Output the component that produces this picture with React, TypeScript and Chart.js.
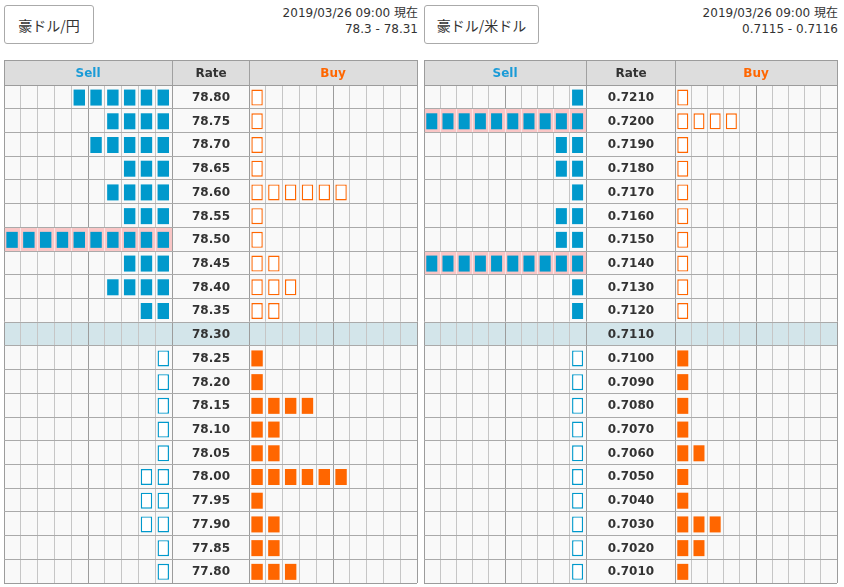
import React, { useEffect, useRef } from 'react';
import { Chart, registerables } from 'chart.js';
Chart.register(...registerables);

// ---------- data ----------
const jpyTitle = '豪ドル/円';
const jpyStamp = '2019/03/26 09:00 現在';
const jpyQuote = '78.3 - 78.31';
const jpyRates = ['78.80', '78.75', '78.70', '78.65', '78.60', '78.55', '78.50', '78.45', '78.40', '78.35', '78.30', '78.25', '78.20', '78.15', '78.10', '78.05', '78.00', '77.95', '77.90', '77.85', '77.80'];
const jpySell = [6, 4, 5, 3, 4, 3, 10, 3, 4, 2, 0, 1, 1, 1, 1, 1, 2, 2, 2, 1, 1];
const jpyBuy = [1, 1, 1, 1, 6, 1, 1, 2, 3, 2, 0, 1, 1, 4, 2, 2, 6, 1, 2, 2, 3];
const jpyCurrent = 10;

const usdTitle = '豪ドル/米ドル';
const usdStamp = '2019/03/26 09:00 現在';
const usdQuote = '0.7115 - 0.7116';
const usdRates = ['0.7210', '0.7200', '0.7190', '0.7180', '0.7170', '0.7160', '0.7150', '0.7140', '0.7130', '0.7120', '0.7110', '0.7100', '0.7090', '0.7080', '0.7070', '0.7060', '0.7050', '0.7040', '0.7030', '0.7020', '0.7010'];
const usdSell = [1, 10, 2, 2, 1, 2, 2, 10, 1, 1, 0, 1, 1, 1, 1, 1, 1, 1, 1, 1, 1];
const usdBuy = [1, 4, 1, 1, 1, 1, 1, 1, 1, 1, 0, 1, 1, 1, 1, 2, 1, 1, 3, 2, 1];
const usdCurrent = 10;

const headerLabels = ['Sell', 'Rate', 'Buy'];
const COLS = 10;
const MAX_BOXES = 10;

// ---------- styles ----------
const BLUE = '#0099cc';
const ORANGE = '#ff6600';
const SELL_TEXT = '#1a9bd7';
const TEXT = '#333333';
const HEADER_ROWS = 25 / 23.714;
const FONT = '"DejaVu Sans", "Noto Sans CJK JP", sans-serif';

type Box = { x: [number, number]; y: number };

function makeConfig(rates: string[], sell: number[], buy: number[], current: number, rateSpan: number): any {
  const sellFilled: Box[] = [];
  const sellOpen: Box[] = [];
  const buyOpen: Box[] = [];
  const buyFilled: Box[] = [];
  const g0 = 0.14, gw = 0.68;
  rates.forEach((_, i) => {
    const yc = i + 0.53;
    for (let k = 0; k < sell[i]; k++) {
      const c = COLS - 1 - k;
      const b: Box = { x: [c + g0, c + g0 + gw], y: yc };
      (i < current ? sellFilled : sellOpen).push(b);
    }
    const base = COLS + rateSpan;
    for (let k = 0; k < buy[i]; k++) {
      const c = base + k;
      const b: Box = { x: [c + g0, c + g0 + gw], y: yc };
      (i < current ? buyOpen : buyFilled).push(b);
    }
  });
  const total = 2 * COLS + rateSpan;
  const xTicks: number[] = [];
  for (let c = 0; c <= COLS; c++) xTicks.push(c);
  for (let c = 0; c <= COLS; c++) xTicks.push(COLS + rateSpan + c);
  const darkX = new Set([0, 5, 10, 11, 16, 21]);
  const yTicks: number[] = [-HEADER_ROWS];
  for (let r = 0; r <= rates.length; r++) yTicks.push(r);
  const highlight = sell.map((v, i) => (v >= MAX_BOXES ? i : -1)).filter((i) => i >= 0);

  const pix = (scale: any, v: number) => Math.round(scale.getPixelForValue(v) - 0.5);

  const tablePlugin = {
    id: 'table',
    beforeDraw(chart: any) {
      const { ctx, chartArea: a, scales } = chart;
      const y = scales.y;
      ctx.save();
      ctx.fillStyle = '#f9f9f9';
      ctx.fillRect(a.left, a.top, a.right - a.left, a.bottom - a.top);
      const t = pix(y, current), b = pix(y, current + 1);
      ctx.fillStyle = '#d3e5ea';
      ctx.fillRect(a.left, t, a.right - a.left, b - t);
      ctx.restore();
    },
    beforeDatasetsDraw(chart: any) {
      const { ctx, scales } = chart;
      const x = scales.x, y = scales.y;
      const L = pix(x, 0), S = pix(x, COLS), B = pix(x, COLS + rateSpan), R = pix(x, total);
      const T = pix(y, -HEADER_ROWS), HB = pix(y, 0);
      ctx.save();
      // header
      ctx.fillStyle = '#dddddd';
      ctx.fillRect(L + 1, T + 1, R - L - 1, HB - T - 1);
      ctx.fillStyle = '#a0a0a0';
      ctx.fillRect(S, T + 1, 1, HB - T - 1);
      ctx.fillRect(B, T + 1, 1, HB - T - 1);
      ctx.font = 'bold 12px ' + FONT;
      ctx.textAlign = 'center';
      ctx.textBaseline = 'alphabetic';
      const hy = (T + HB) / 2 + 4.5;
      ctx.fillStyle = SELL_TEXT;
      ctx.fillText(headerLabels[0], (L + S) / 2, hy);
      ctx.fillStyle = TEXT;
      ctx.fillText(headerLabels[1], (S + B) / 2 + 0.5, hy);
      ctx.fillStyle = ORANGE;
      ctx.fillText(headerLabels[2], (B + R) / 2, hy);
      // highlighted rows (full sell side)
      highlight.forEach((i) => {
        const t = pix(y, i), b = pix(y, i + 1);
        ctx.fillStyle = '#f9c6c6';
        ctx.fillRect(L + 1, t + 1, S - L - 1, b - t - 1);
        ctx.fillStyle = '#fbe6e6';
        for (let c = 1; c < COLS; c++) ctx.fillRect(pix(x, c), t + 1, 1, b - t - 1);
      });
      ctx.restore();
    },
    afterDatasetsDraw(chart: any) {
      const { ctx, scales } = chart;
      const x = scales.x, y = scales.y;
      const cx = (x.getPixelForValue(COLS) + x.getPixelForValue(COLS + rateSpan)) / 2 + 0.5;
      ctx.save();
      ctx.font = 'bold 12px ' + FONT;
      ctx.textAlign = 'center';
      ctx.textBaseline = 'alphabetic';
      ctx.fillStyle = TEXT;
      rates.forEach((label, i) => {
        ctx.fillText(label, cx, y.getPixelForValue(i + 0.5) + 4.2);
      });
      ctx.restore();
    },
  };

  const common = { borderSkipped: false, inflateAmount: 0, grouped: false, barThickness: 16 };
  return {
    type: 'bar',
    data: {
      datasets: [
        { label: 'sell', data: sellFilled, backgroundColor: BLUE, borderWidth: 0, ...common },
        { label: 'sell open', data: sellOpen, backgroundColor: '#ffffff', borderColor: BLUE, borderWidth: 1.4, ...common },
        { label: 'buy open', data: buyOpen, backgroundColor: '#ffffff', borderColor: ORANGE, borderWidth: 1.4, ...common },
        { label: 'buy', data: buyFilled, backgroundColor: ORANGE, borderWidth: 0, ...common },
      ],
    },
    options: {
      indexAxis: 'y',
      responsive: false,
      animation: false,
      devicePixelRatio: 1,
      events: [],
      layout: { padding: { left: 1, top: 1, right: 3, bottom: 2 } },
      plugins: { legend: { display: false }, tooltip: { enabled: false }, title: { display: false } },
      scales: {
        x: {
          type: 'linear',
          min: 0,
          max: total,
          offset: false,
          ticks: { display: false },
          border: { display: false },
          grid: { offset: false, drawTicks: false, lineWidth: 1, color: (c: any) => (darkX.has(c.index) ? '#9c9c9c' : '#c6c6c6') },
          afterBuildTicks: (s: any) => { s.ticks = xTicks.map((v) => ({ value: v })); },
        },
        y: {
          type: 'linear',
          min: -HEADER_ROWS,
          max: rates.length,
          reverse: true,
          offset: false,
          ticks: { display: false },
          border: { display: false },
          grid: { offset: false, drawTicks: false, lineWidth: 1, color: (c: any) => (c.index <= 1 || c.index === yTicks.length - 1 ? '#9c9c9c' : '#aaaaaa') },
          afterBuildTicks: (s: any) => { s.ticks = yTicks.map((v) => ({ value: v })); },
        },
      },
    },
    plugins: [tablePlugin],
  };
}

function Panel(props: { left: number; title: string; btnWidth: number; stamp: string; quote: string; rates: string[]; sell: number[]; buy: number[]; current: number; rateSpan: number }) {
  const ref = useRef<HTMLCanvasElement>(null);
  useEffect(() => {
    if (!ref.current) return;
    const chart = new Chart(ref.current, makeConfig(props.rates, props.sell, props.buy, props.current, props.rateSpan));
    return () => chart.destroy();
  }, []);
  const { left } = props;
  return (
    <>
      <div
        style={{
          position: 'absolute', left: left + 4, top: 5, width: props.btnWidth, height: 39, boxSizing: 'border-box',
          border: '1px solid #aaaaaa', borderRadius: 3, background: '#fff', display: 'flex', alignItems: 'center',
          justifyContent: 'center', fontFamily: '"Noto Sans CJK JP", sans-serif', fontSize: 14, color: TEXT,
        }}
      >
        {props.title}
      </div>
      <div style={{ position: 'absolute', left: left, width: 418, top: 5, lineHeight: '16px', textAlign: 'right', fontFamily: FONT, fontSize: 12, color: TEXT, whiteSpace: 'nowrap' }}>
        {props.stamp}
      </div>
      <div style={{ position: 'absolute', left: left, width: 418, top: 21, lineHeight: '16px', textAlign: 'right', fontFamily: FONT, fontSize: 12, color: TEXT, whiteSpace: 'nowrap' }}>
        {props.quote}
      </div>
      <canvas ref={ref} width={417} height={526} style={{ position: 'absolute', left: left + 3, top: 59, width: 417, height: 526 }} />
    </>
  );
}

export default function App() {
  return (
    <div style={{ position: 'absolute', left: 0, top: 0, width: 844, height: 587, background: '#ffffff', overflow: 'hidden' }}>
      <Panel left={0} title={jpyTitle} btnWidth={90} stamp={jpyStamp} quote={jpyQuote} rates={jpyRates} sell={jpySell} buy={jpyBuy} current={jpyCurrent} rateSpan={77 / 16.8} />
      <Panel left={420} title={usdTitle} btnWidth={115} stamp={usdStamp} quote={usdQuote} rates={usdRates} sell={usdSell} buy={usdBuy} current={usdCurrent} rateSpan={89 / 16.2} />
    </div>
  );
}
